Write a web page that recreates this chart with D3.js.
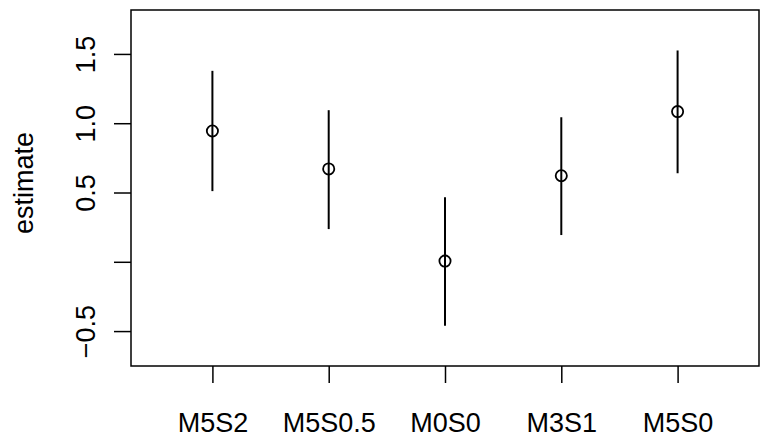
<!DOCTYPE html>
<html>
<head>
<meta charset="utf-8">
<script src="https://cdn.jsdelivr.net/npm/d3@7"></script>
<style>
  body { margin: 0; background: #fff; }
  text { font-family: "Liberation Sans", Arial, Helvetica, sans-serif; fill: #000; }
</style>
</head>
<body>
<svg id="chart" width="769" height="442"></svg>
<script>
// data
var groups   = ["M5S2", "M5S0.5", "M0S0", "M3S1", "M5S0"];
var estimate = [0.944, 0.670, 0.005, 0.621, 1.084];
var lower    = [0.510, 0.236, -0.462, 0.193, 0.639];
var upper    = [1.378, 1.094, 0.465, 1.043, 1.525];
var yTicks      = [-0.5, 0, 0.5, 1.0, 1.5];
var yTickLabels = ["\u22120.5", "", "0.5", "1.0", "1.5"];

var box = {left: 131, right: 759, top: 10, bottom: 366};

var svg = d3.select("#chart");

// x positions 1..5, xlim 0.5..5.5 with R's 4% padding
var xScale = d3.scaleLinear()
  .domain([0.3, 5.7])
  .range([box.left, box.right]);

var yScale = d3.scaleLinear()
  .domain([-0.752, 1.817])
  .range([box.bottom, box.top]);

var rows = groups.map((g, i) => ({g: g, i: i + 1, est: estimate[i], lo: lower[i], hi: upper[i]}));

// error bars
svg.selectAll("line.ci")
  .data(rows)
  .join("line")
    .attr("class", "ci")
    .attr("x1", d => xScale(d.i))
    .attr("x2", d => xScale(d.i))
    .attr("y1", d => yScale(d.lo))
    .attr("y2", d => yScale(d.hi))
    .attr("stroke", "#000")
    .attr("stroke-width", 2);

// points (white fill hides the bar inside the circle? no - R pch=1 is hollow)
svg.selectAll("circle.pt")
  .data(rows)
  .join("circle")
    .attr("class", "pt")
    .attr("cx", d => xScale(d.i))
    .attr("cy", d => yScale(d.est))
    .attr("r", 5.6)
    .attr("fill", "none")
    .attr("stroke", "#000")
    .attr("stroke-width", 1.8);

// y axis
var yAxis = svg.append("g")
  .attr("transform", `translate(${box.left},0)`)
  .call(d3.axisLeft(yScale).tickValues(yTicks).tickSize(17).tickPadding(0)
    .tickFormat((d, i) => yTickLabels[i]));
yAxis.select(".domain").remove();
yAxis.selectAll(".tick line").attr("stroke", "#000").attr("stroke-width", 1.5);
yAxis.selectAll(".tick text")
  .attr("x", null).attr("dy", null)
  .attr("text-anchor", "middle")
  .attr("transform", "translate(-36,0) rotate(-90)")
  .style("font-size", "27px");

// x axis
var xAxis = svg.append("g")
  .attr("transform", `translate(0,${box.bottom})`)
  .call(d3.axisBottom(xScale).tickValues(rows.map(d => d.i)).tickSize(17).tickPadding(0)
    .tickFormat((d, i) => groups[i]));
xAxis.select(".domain").remove();
xAxis.selectAll(".tick line").attr("stroke", "#000").attr("stroke-width", 1.5);
xAxis.selectAll(".tick text")
  .attr("y", 66).attr("dy", null)
  .style("font-size", "27px");

// plot box
svg.append("rect")
  .attr("x", box.left).attr("y", box.top)
  .attr("width", box.right - box.left).attr("height", box.bottom - box.top)
  .attr("fill", "none").attr("stroke", "#000").attr("stroke-width", 1.5);

// y title
svg.append("text")
  .attr("transform", `translate(33,${(box.top + box.bottom) / 2 - 5}) rotate(-90)`)
  .attr("text-anchor", "middle")
  .style("font-size", "27px")
  .text("estimate");
</script>
</body>
</html>
